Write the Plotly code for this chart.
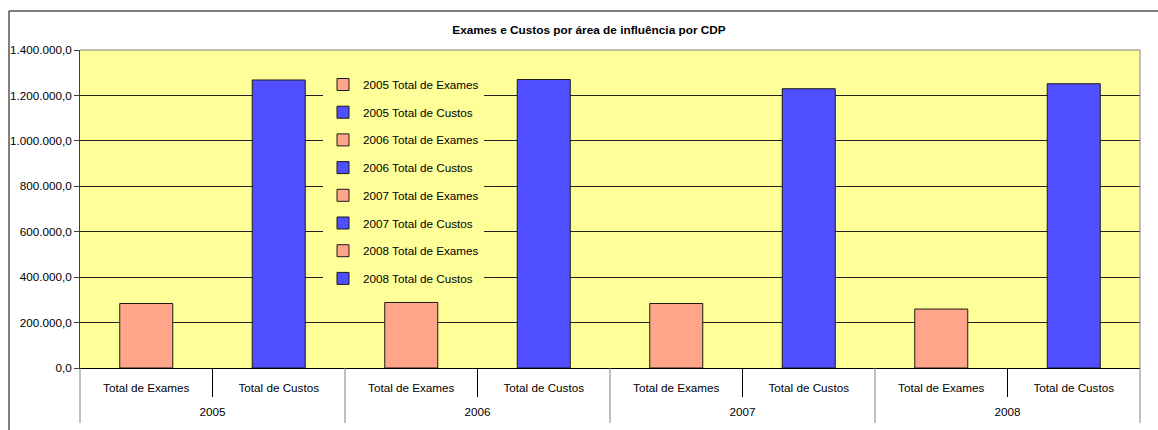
import plotly.graph_objects as go

years = ["2005", "2006", "2007", "2008"]
kinds = ["Total de Exames", "Total de Custos"]
exames = [284000, 288500, 284000, 259500]
custos = [1268000, 1270000, 1229500, 1251500]
title_text = "Exames e Custos por área de influência por CDP"

colors = {"Total de Exames": "#FFA68A", "Total de Custos": "#4F4FFF"}

fig = go.Figure()
cat_keys = []
cat_kind = []
cat_year = []
for i, y in enumerate(years):
    for k in kinds:
        key = f"{y} {k}"
        cat_keys.append(key)
        cat_kind.append(k)
        cat_year.append(y)
        val = exames[i] if k == "Total de Exames" else custos[i]
        fig.add_trace(go.Bar(
            x=[key], y=[val],
            name=key,
            legendgroup=key,
            width=0.4,
            marker=dict(color=colors[k], line=dict(color="#1a1a1a", width=1)),
        ))

n = len(cat_keys)
PLOT_H = 318

# year group centres on the secondary axis (in category-index units)
year_pos = []
for y in years:
    idx = [j for j in range(n) if cat_year[j] == y]
    year_pos.append(sum(idx) / len(idx))

# empty helper trace so that the secondary (year) axis gets drawn
fig.add_trace(go.Scatter(x=year_pos, y=[None] * len(year_pos), xaxis="x2", yaxis="y",
                         mode="markers", showlegend=False, hoverinfo="skip"))

shapes = []
# separators on the category axis
for j in range(0, n + 1):
    if j in (0, n) or cat_year[j] != cat_year[j - 1]:
        shapes.append(dict(type="line", xref="paper", yref="paper",
                           x0=j / n, x1=j / n, y0=0, y1=-55 / PLOT_H,
                           line=dict(color="#808080", width=1)))
    else:
        shapes.append(dict(type="line", xref="paper", yref="paper",
                           x0=j / n, x1=j / n, y0=0, y1=-29 / PLOT_H,
                           line=dict(color="#000000", width=1)))
# plot-area border (top and right, grey)
shapes.append(dict(type="line", xref="paper", yref="paper", x0=0, x1=1, y0=1, y1=1,
                   line=dict(color="#808080", width=1), layer="above"))
shapes.append(dict(type="line", xref="paper", yref="paper", x0=1, x1=1, y0=0, y1=1,
                   line=dict(color="#808080", width=1), layer="above"))
# outer chart frame
shapes.append(dict(type="rect", xref="paper", yref="paper",
                   x0=-71 / 1060, x1=1.2, y0=-0.5, y1=(368 - 11) / PLOT_H,
                   line=dict(color="#000000", width=1)))

FS = 11.7
fig.update_layout(
    width=1158, height=430,
    margin=dict(l=80, r=18, t=50, b=62),
    paper_bgcolor="white",
    plot_bgcolor="#FFFF99",
    barmode="overlay",
    separators=",.",
    font=dict(family="Liberation Sans, Arial, sans-serif", size=FS, color="#000000"),
    title=dict(text=f"<b>{title_text}</b>", xref="container", yref="container",
               x=589 / 1158, y=1 - 30 / 430, xanchor="center", yanchor="middle",
               font=dict(size=11.8, color="#000000")),
    legend=dict(x=(323 - 80) / 1060, y=(368 - 70) / PLOT_H, xanchor="left", yanchor="top",
                bgcolor="#FFFF99", borderwidth=0, traceorder="grouped",
                tracegroupgap=8.7, font=dict(size=FS),
                entrywidthmode="pixels", entrywidth=140),
    shapes=shapes,
    xaxis=dict(
        type="category", categoryorder="array", categoryarray=cat_keys,
        tickvals=cat_keys, ticktext=cat_kind,
        range=[-0.5, n - 0.5],
        showline=True, linecolor="#000000", linewidth=1,
        showgrid=False, ticks="", automargin=False,
        ticklabelstandoff=9,
        tickfont=dict(size=FS),
    ),
    xaxis2=dict(
        overlaying="x", anchor="y", side="bottom",
        type="linear", range=[-0.5, n - 0.5],
        tickvals=year_pos, ticktext=years,
        showgrid=False, showline=False, zeroline=False, ticks="",
        automargin=False, ticklabelstandoff=35,
        tickfont=dict(size=FS),
    ),
    yaxis=dict(
        range=[0, 1400000], dtick=200000, tickformat=",.1f",
        showgrid=True, gridcolor="#222222", gridwidth=1,
        showline=True, linecolor="#404040", linewidth=1,
        ticks="outside", ticklen=5, tickcolor="#404040",
        zeroline=False, automargin=False, tickfont=dict(size=FS),
    ),
)

fig.write_html("out.html")
